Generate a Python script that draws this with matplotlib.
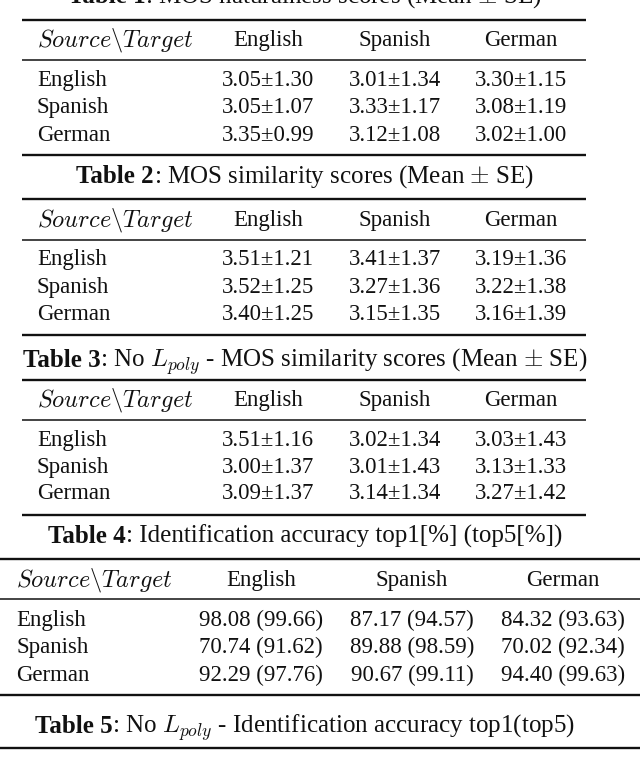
import matplotlib

matplotlib.use("Agg")
import matplotlib.pyplot as plt

plt.rcParams["font.family"] = ["Liberation Serif", "DejaVu Serif"]
plt.rcParams["mathtext.fontset"] = "cm"

# ---- data ----
languages = ["English", "Spanish", "German"]
header = r"$Source\backslash Target$"

nat_mean = [[3.05, 3.01, 3.30], [3.05, 3.33, 3.08], [3.35, 3.12, 3.02]]
nat_se = [[1.30, 1.34, 1.15], [1.07, 1.17, 1.19], [0.99, 1.08, 1.00]]
sim_mean = [[3.51, 3.41, 3.19], [3.52, 3.27, 3.22], [3.40, 3.15, 3.16]]
sim_se = [[1.21, 1.37, 1.36], [1.25, 1.36, 1.38], [1.25, 1.35, 1.39]]
nopoly_mean = [[3.51, 3.02, 3.03], [3.00, 3.01, 3.13], [3.09, 3.14, 3.27]]
nopoly_se = [[1.16, 1.34, 1.43], [1.37, 1.43, 1.33], [1.37, 1.34, 1.42]]
top1 = [[98.08, 87.17, 84.32], [70.74, 89.88, 70.02], [92.29, 90.67, 94.40]]
top5 = [[99.66, 94.57, 93.63], [91.62, 98.59, 92.34], [97.76, 99.11, 99.63]]

captions = [
    ("Table 1", r": MOS naturalness scores (Mean $\pm$ SE)"),
    ("Table 2", r": MOS similarity scores (Mean $\pm$ SE)"),
    ("Table 3", r": No $L_{poly}$ - MOS similarity scores (Mean $\pm$ SE)"),
    ("Table 4", r": Identification accuracy top1[%] (top5[%])"),
    ("Table 5", r": No $L_{poly}$ - Identification accuracy top1(top5)"),
]

# ---- layout (pixel coords, y downwards) ----
W, H = 640, 759
FS = 16.5
HEAD_FS = 17.5
CAP_FS = 18
BASE = 6  # baseline offset below visual centre
INK = "#111111"

fig = plt.figure(figsize=(W / 100, H / 100), dpi=100)
ax = fig.add_axes([0, 0, 1, 1])
ax.set_xlim(0, W)
ax.set_ylim(H, 0)
ax.axis("off")
renderer = fig.canvas.get_renderer()


def caption(y, bold, rest, xc=305):
    t1 = ax.text(0, y + BASE, bold, fontsize=CAP_FS, fontweight="bold",
                 va="baseline", ha="left", color=INK)
    t2 = ax.text(0, y + BASE, rest, fontsize=CAP_FS, va="baseline",
                 ha="left", color=INK)
    w1 = t1.get_window_extent(renderer).width
    w2 = t2.get_window_extent(renderer).width
    x0 = xc - (w1 + w2) / 2
    t1.set_x(x0)
    t2.set_x(x0 + w1)


def table(rules, x0, x1, label_x, col_x, head_y, row_y, cells):
    top, mid, bot = rules
    ax.plot([x0, x1], [top, top], color=INK, lw=1.7, solid_capstyle="butt")
    ax.plot([x0, x1], [mid, mid], color=INK, lw=1.1, solid_capstyle="butt")
    ax.plot([x0, x1], [bot, bot], color=INK, lw=1.7, solid_capstyle="butt")
    ax.text(label_x, head_y + BASE, header, fontsize=HEAD_FS, va="baseline",
            ha="left", color=INK)
    for cx, lang in zip(col_x, languages):
        ax.text(cx, head_y + BASE, lang, fontsize=FS, va="baseline",
                ha="center", color=INK)
    for i, (ry, lang) in enumerate(zip(row_y, languages)):
        ax.text(label_x, ry + BASE, lang, fontsize=FS, va="baseline",
                ha="left", color=INK)
        for j, cx in enumerate(col_x):
            ax.text(cx, ry + BASE, cells[i][j], fontsize=FS, va="baseline",
                    ha="center", color=INK)


def pm_cells(mean, se):
    return [[f"{m:.2f}\u00b1{s:.2f}" for m, s in zip(rm, rs)]
            for rm, rs in zip(mean, se)]


def acc_cells(a, b):
    return [[f"{x:.2f} ({y:.2f})" for x, y in zip(ra, rb)]
            for ra, rb in zip(a, b)]


cols3 = [268, 395, 521]
cols4 = [261, 412, 563]

# Table 1
caption(-3, *captions[0])
table((20, 60, 155), 22, 586, 37, cols3, 40, [80, 107, 135],
      pm_cells(nat_mean, nat_se))

# Table 2
caption(177, *captions[1])
table((199, 240, 335), 22, 586, 37, cols3, 220, [259, 287, 314],
      pm_cells(sim_mean, sim_se))

# Table 3
caption(361, *captions[2])
table((380, 420, 515), 22, 586, 37, cols3, 400, [440, 467, 493],
      pm_cells(nopoly_mean, nopoly_se))

# Table 4
caption(537, *captions[3])
table((559, 599, 695), 0, W, 16, cols4, 580, [620, 647, 675],
      acc_cells(top1, top5))

# Table 5 (caption and first rule only)
caption(727, *captions[4])
ax.plot([0, W], [748, 748], color=INK, lw=1.7, solid_capstyle="butt")

fig.savefig("out.png", dpi=100)
plt.close(fig)
